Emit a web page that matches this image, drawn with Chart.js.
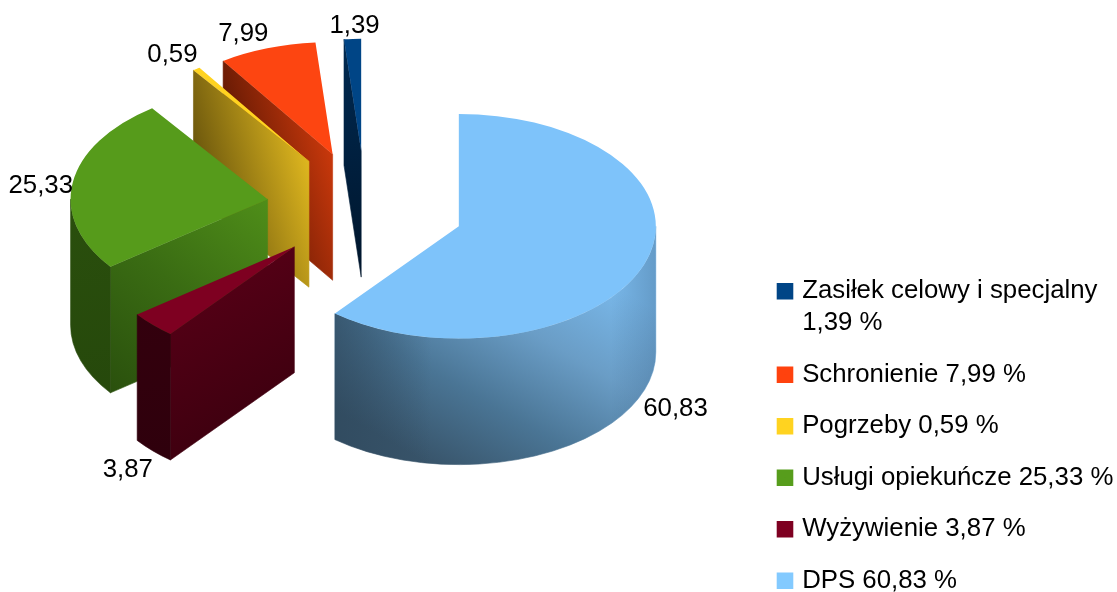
<!DOCTYPE html>
<html lang="pl">
<head>
<meta charset="utf-8">
<title>Wydatki</title>
<script src="https://cdn.jsdelivr.net/npm/chart.js@4"></script>
<style>
  html, body { margin: 0; padding: 0; background: #fff; overflow: hidden; }
  canvas { display: block; }
</style>
</head>
<body>
<canvas id="pie" width="1117" height="592"></canvas>
<script>
// clockwise from 12 o'clock, the legend shows them reversed
const categories = ["DPS", "Wyżywienie", "Usługi opiekuńcze", "Pogrzeby", "Schronienie", "Zasiłek celowy i specjalny"];
const values = [60.83, 3.87, 25.33, 0.59, 7.99, 1.39];
const colors = ["#83CAFF", "#7E0021", "#579D1C", "#FFD320", "#FF420E", "#004586"];
const topColors = ["#7EC3FA", "#7E0021", "#569B1B", "#FFD320", "#FD4511", "#004586"];

const squash = 0.57;   // how flat the pie looks
const depth = 126;     // height of the walls
const explode = 99;    // every slice is pulled out by this much
const fontSize = 25.8;
const labelNudges = [[31, 145], [-25, 145], [-32, 3], [-24, -14], [-24, -14], [2, -13]];

// wall shading, gradient ends are fractions of the wall's bounding box
const sideWalls = [
  null,
  { from: [0, 0], to: [1, 1], stops: ["#5c0018", "#36000d"] },
  { from: [0, 1], to: [1, 0], stops: ["#2a500d", "#3a6c13", "#4f8e19"] },
  { from: [0, 0.45], to: [1, 0.3], stops: ["#66520c", "#e6bd20"] },
  { from: [0, 0.45], to: [1, 0.3], stops: ["#521403", "#d23b0c"] },
  { from: [0, 0], to: [1, 1], stops: ["#002a52", "#00152b"] }
];
const outerWalls = [
  {
    from: [0.296, 1], to: [0.68, 0.1], stops: ["#38546a", "#4a7595", "#6a9dc6", "#79b8ea"],
    overlays: [
      { from: [0, 0], to: [0.3, 0], stops: ["rgba(45,70,90,0.6)", "rgba(45,70,90,0)"] },
      { from: [0.86, 0], to: [1, 0], stops: ["rgba(40,70,100,0)", "rgba(40,70,100,0.25)"] }
    ]
  },
  { from: [0, 0], to: [1, 1], stops: ["#35000e", "#2e000c"] },
  { from: [0, 0], to: [1, 1], stops: ["#2a4f0d", "#25470b"] },
  null, null, null
];

function fmt(v) {
  return v.toFixed(2).replace(".", ",");
}

function wallFill(ctx, style, box) {
  const g = ctx.createLinearGradient(
    box.x + style.from[0] * box.w, box.y + style.from[1] * box.h,
    box.x + style.to[0] * box.w, box.y + style.to[1] * box.h
  );
  style.stops.forEach((c, i) => g.addColorStop(i / (style.stops.length - 1), c));
  return g;
}

function sliceGeometry(arc) {
  const p = arc.getProps(["x", "y", "startAngle", "endAngle", "outerRadius"], true);
  const mid = (p.startAngle + p.endAngle) / 2;
  return {
    start: p.startAngle,
    end: p.endAngle,
    mid: mid,
    r: p.outerRadius,
    ry: p.outerRadius * squash,
    cy: p.y,
    dx: Math.cos(mid) * explode,
    dy: Math.sin(mid) * explode,
    ax: p.x + Math.cos(mid) * explode,
    ay: p.y + Math.sin(mid) * explode * squash
  };
}

function drawSideWall(ctx, s, angle, style) {
  const ex = s.ax + Math.cos(angle) * s.r;
  const ey = s.ay + Math.sin(angle) * s.ry;
  const box = {
    x: Math.min(s.ax, ex), y: Math.min(s.ay, ey),
    w: Math.abs(ex - s.ax), h: Math.abs(ey - s.ay) + depth
  };
  ctx.beginPath();
  ctx.moveTo(s.ax, s.ay);
  ctx.lineTo(ex, ey);
  ctx.lineTo(ex, ey + depth);
  ctx.lineTo(s.ax, s.ay + depth);
  ctx.closePath();
  ctx.fillStyle = ctx.strokeStyle = wallFill(ctx, style, box);
  ctx.lineWidth = 0.6;
  ctx.fill();
  ctx.stroke();
}

function drawOuterWall(ctx, s, a0, a1, style) {
  // cos is monotone on the lower half so the ends give the width
  const box = {
    x: s.ax + Math.cos(a1) * s.r, y: s.ay,
    w: (Math.cos(a0) - Math.cos(a1)) * s.r, h: s.ry + depth
  };
  ctx.beginPath();
  ctx.ellipse(s.ax, s.ay, s.r, s.ry, 0, a0, a1);
  ctx.ellipse(s.ax, s.ay + depth, s.r, s.ry, 0, a1, a0, true);
  ctx.closePath();
  ctx.fillStyle = ctx.strokeStyle = wallFill(ctx, style, box);
  ctx.lineWidth = 0.6;
  ctx.fill();
  ctx.stroke();
  (style.overlays || []).forEach(o => {
    ctx.fillStyle = wallFill(ctx, o, box);
    ctx.fill();
  });
}

const pie3d = {
  id: "pie3d",
  afterLayout(chart) {
    // legend sits on top of the free space right of the pie
    const legend = chart.legend;
    const pad = legend.options.labels.padding;
    legend.left = 780.75 - pad;
    legend.top = 278.3 - pad;
    legend.right = chart.width;
    legend.bottom = chart.height + 100;
  },
  beforeDatasetsDraw(chart) {
    const ctx = chart.ctx;
    const arcs = chart.getDatasetMeta(0).data;
    // back to front, the last slices of the clockwise order are the furthest
    for (let i = arcs.length - 1; i >= 0; i--) {
      const s = sliceGeometry(arcs[i]);

      if (sideWalls[i] && Math.cos(s.end) > 0) drawSideWall(ctx, s, s.end, sideWalls[i]);
      if (sideWalls[i] && Math.cos(s.start) < 0) drawSideWall(ctx, s, s.start, sideWalls[i]);

      // front part of the rim, canvas angles 0..PI are the lower half
      const lo = Math.max(s.start, 0);
      const hi = Math.min(s.end, Math.PI);
      if (outerWalls[i] && hi > lo) drawOuterWall(ctx, s, lo, hi, outerWalls[i]);

      ctx.save();
      ctx.translate(s.dx, s.cy + s.dy * squash);
      ctx.scale(1, squash);
      ctx.translate(0, -s.cy);
      arcs[i].draw(ctx);
      ctx.restore();
    }
    return false;
  },
  afterDraw(chart) {
    const ctx = chart.ctx;
    const arcs = chart.getDatasetMeta(0).data;
    ctx.save();
    ctx.font = fontSize + "px 'Liberation Sans'";
    ctx.fillStyle = "#000";
    ctx.textAlign = "center";
    ctx.textBaseline = "middle";
    arcs.forEach((arc, i) => {
      const s = sliceGeometry(arc);
      const x = s.ax + Math.cos(s.mid) * s.r + labelNudges[i][0];
      const y = s.ay + Math.sin(s.mid) * s.ry + labelNudges[i][1];
      ctx.fillText(fmt(values[i]), x, y);
    });
    ctx.restore();
  }
};

new Chart(document.getElementById("pie"), {
  type: "pie",
  data: {
    labels: categories,
    datasets: [{
      data: values,
      backgroundColor: topColors,
      borderWidth: 0
    }]
  },
  options: {
    responsive: false,
    animation: false,
    radius: 197,
    layout: { padding: { right: 386, bottom: 177 } },
    plugins: {
      tooltip: { enabled: false },
      legend: {
        position: "chartArea",
        align: "start",
        reverse: true,
        labels: {
          boxWidth: 8.5,
          boxHeight: 8.5,
          padding: 19.5,
          color: "#000",
          font: { family: "'Liberation Sans'", size: fontSize, lineHeight: 32 / fontSize },
          generateLabels(chart) {
            return categories.map((name, i) => {
              const pct = fmt(values[i]) + " %";
              return {
                // the long name wraps in the reference
                text: name.length > 20 ? [name, pct] : [name + " " + pct],
                fillStyle: colors[i],
                strokeStyle: colors[i],
                lineWidth: 8.1,
                index: i
              };
            });
          }
        }
      }
    }
  },
  plugins: [pie3d]
});
</script>
</body>
</html>
